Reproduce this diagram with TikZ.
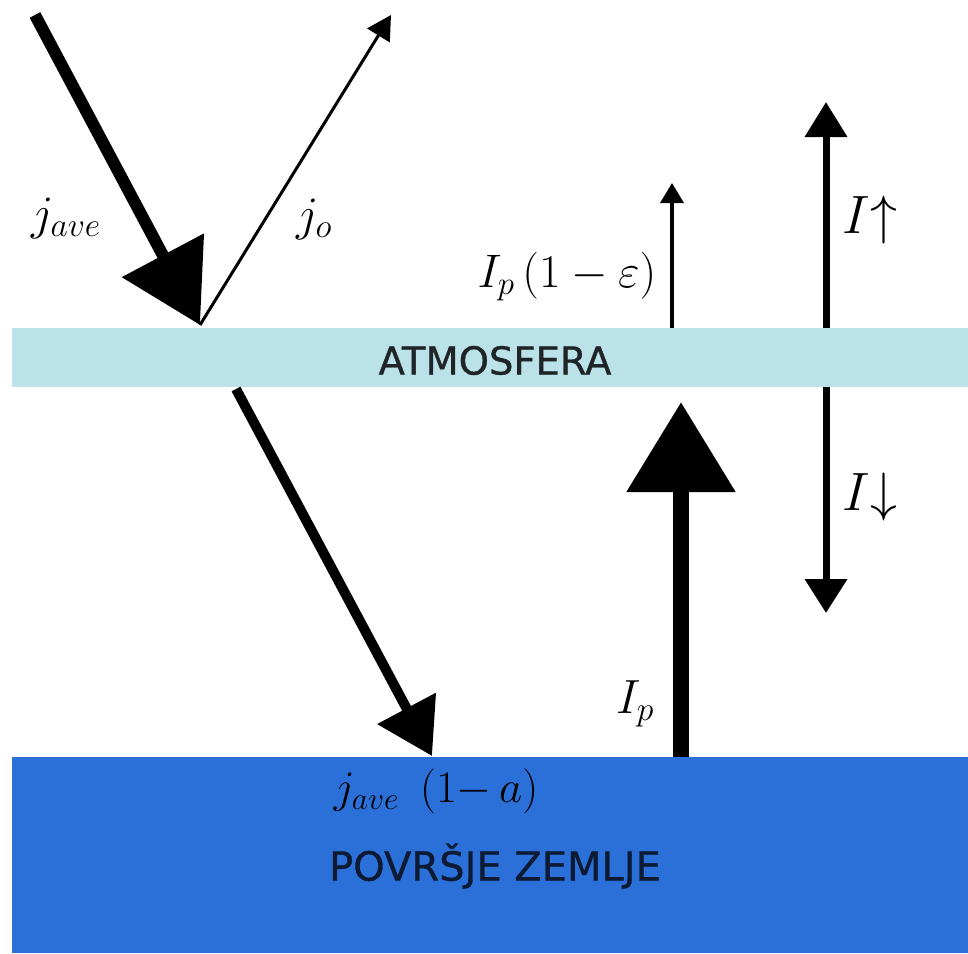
\RequirePackage{fix-cm}
\documentclass[tikz,border=0pt]{standalone}
\usepackage{fontspec}
\newfontfamily\bandfont[FakeBold=0.8]{DejaVu Sans}
\usetikzlibrary{arrows.meta}
\definecolor{atmo}{HTML}{BBE1E9}
\definecolor{earth}{HTML}{2B70D9}
\definecolor{atmotext}{HTML}{1F2427}
\definecolor{earthtext}{HTML}{0C1A33}
\tikzset{
  band/.style={rectangle, inner sep=0pt, outer sep=0pt, draw=none, anchor=north west},
  bandtext/.style={inner sep=0pt, font=\bandfont\fontsize{38.5}{46}\selectfont},
  mlabel/.style={inner sep=0pt, font=\fontsize{48}{58}\selectfont},
}
\begin{document}
\begin{tikzpicture}[x=1pt,y=-1pt]
\useasboundingbox (0,0) rectangle (968,953);
% bands
\node[band, fill=atmo, minimum width=956pt, minimum height=59pt] (atm) at (12,328) {};
\node[band, fill=earth, minimum width=956pt, minimum height=196pt] (gnd) at (12,757) {};
\node[bandtext, text=atmotext] (atmlabel) at (495,360.5) {ATMOSFERA};
\node[bandtext, text=earthtext, font=\bandfont\fontsize{40}{48}\selectfont] (gndlabel) at (495,866) {POVRŠJE ZEMLJE};
% coordinates
\coordinate (sun) at (35,15);
\coordinate (hit) at (200,325);
\coordinate (refl) at (391,15);
\coordinate (tstart) at (236,389);
\coordinate (tend) at (432,756);
\coordinate (ipbase) at (681,757);
\coordinate (iptip) at (681,402);
\coordinate (esc0) at (672,328);
\coordinate (esc1) at (672,183);
\coordinate (up0) at (826,328);
\coordinate (up1) at (826,102);
\coordinate (dn0) at (826,387);
\coordinate (dn1) at (826,613);
% rays
\draw[line width=12pt, -{Triangle[length=79pt,width=90pt]}] (sun) -- (hit);
\draw[line width=3pt, -{Triangle[length=24pt,width=26pt]}] (hit) -- (refl);
\draw[line width=10pt, -{Triangle[length=54pt,width=64pt]}] (tstart) -- (tend);
\draw[line width=16pt, -{Triangle[length=90pt,width=105pt]}] (ipbase) -- (iptip);
\draw[line width=3.5pt, -{Triangle[length=20pt,width=23pt]}] (esc0) -- (esc1);
\draw[line width=7pt, -{Triangle[length=35pt,width=41pt]}] (up0) -- (up1);
\draw[line width=7pt, -{Triangle[length=34pt,width=41pt]}] (dn0) -- (dn1);
% labels
\node[mlabel] (ljave) at (66,218) {$j_{ave}$};
\node[mlabel] (ljo) at (314,219) {$j_o$};
\node[mlabel, font=\fontsize{47}{56}\selectfont] (lesc) at (567,277) {$I_p\,(1-\varepsilon)$};
\node[mlabel, font=\fontsize{54}{64}\selectfont] (lup) at (870,220) {$I{\uparrow}$};
\node[mlabel, font=\fontsize{54}{64}\selectfont] (ldn) at (870,497) {$I{\downarrow}$};
\node[mlabel] (lip) at (635,704) {$I_p$};
\node[mlabel, font=\fontsize{45}{54}\selectfont] (lgnd) at (436,791) {$j_{ave}\ \,(1{-}\,a)$};
\end{tikzpicture}
\end{document}
